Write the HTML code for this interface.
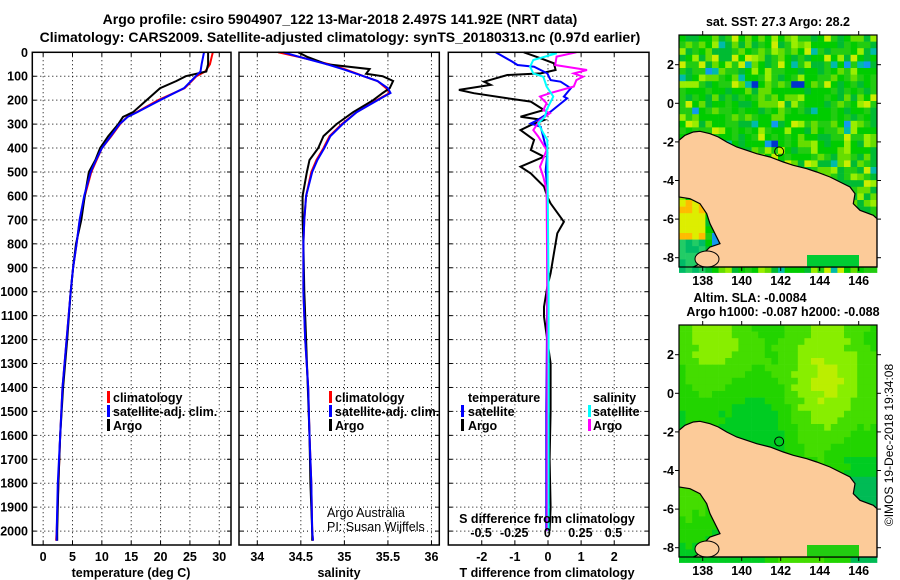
<!DOCTYPE html>
<html><head><meta charset="utf-8">
<style>
html,body{margin:0;padding:0;background:#fff;}
svg{display:block;font-family:"Liberation Sans",sans-serif;}
.b{font-weight:bold;font-size:12.5px;}
.t{font-weight:bold;font-size:14px;}
</style></head>
<body>
<svg id="fig" width="900" height="580" viewBox="0 0 900 580">
<text class="t" x="340" y="24" text-anchor="middle">Argo profile: csiro 5904907_122 13-Mar-2018 2.497S 141.92E (NRT data)</text>
<text class="t" x="340" y="42" text-anchor="middle">Climatology: CARS2009. Satellite-adjusted climatology: synTS_20180313.nc (0.97d earlier)</text>
<g id="panels"></g>
<g id="maps"></g>
<text class="b" transform="translate(893,445) rotate(-90)" text-anchor="middle" style="font-weight:normal;font-size:12px">©IMOS 19-Dec-2018 19:34:08</text>
</svg>
<script>
// ---- data ----
const tDepths=[0,50,80,100,120,150,200,250,270,300,350,400,450,500,600,700,800,900,1000,1200,1400,1600,1800,2000,2040];
const tClim=[28.9,28.4,27.6,26.1,25.3,24.1,19.6,15.9,14.3,13.1,11.6,10.0,9.1,8.2,7.1,6.25,5.7,5.1,4.7,4.0,3.3,2.9,2.6,2.3,2.2];
const tSat=[27.4,27.0,26.8,26.0,25.2,24.0,19.9,16.0,14.4,13.0,11.5,10.0,9.0,8.1,7.0,6.2,5.7,5.1,4.7,4.0,3.3,2.9,2.5,2.3,2.3];
const tArgo=[28.1,28.1,27.8,24.3,22.7,19.9,17.6,15.3,13.6,12.8,11.1,9.7,8.9,7.8,7.1,6.5,5.6,5.1,4.7,4.1,3.4,2.9,2.6,2.4,2.4];
const sDepths=[0,20,50,70,90,100,120,150,170,200,250,300,350,400,450,500,600,700,800,1000,1200,1400,1600,1800,2000,2040];
const sClim=[34.24,34.49,34.83,35.0,35.15,35.22,35.38,35.48,35.52,35.37,35.14,34.97,34.83,34.76,34.68,34.62,34.56,34.54,34.53,34.53,34.55,34.585,34.60,34.62,34.63,34.64];
const sSat=[34.30,34.49,34.80,34.98,35.14,35.22,35.38,35.50,35.53,35.38,35.14,34.98,34.84,34.77,34.69,34.63,34.56,34.54,34.53,34.53,34.55,34.585,34.60,34.62,34.63,34.64];
const sArgo=[34.47,34.58,34.80,35.29,35.25,35.44,35.56,35.52,35.44,35.33,35.10,34.91,34.76,34.70,34.60,34.57,34.52,34.52,34.53,34.54,34.56,34.58,34.60,34.61,34.63,34.63];
const dtArgoDepths=[0,25,46,74,88,95,123,136,157,171,192,206,241,269,283,304,325,366,408,436,478,506,561,603,631,708,756,840,923,979,1063,1104,1300,1500,1700,1900,2000];
const dtArgo=[-0.73,-0.22,0.18,0.23,-0.22,-1.23,-1.93,-1.73,-2.69,-2.24,-1.23,-0.52,-0.12,-0.83,-0.12,-0.52,-0.83,-0.42,-0.52,-0.12,-0.83,-0.52,-0.12,-0.02,0.08,0.48,0.28,0.18,0.08,-0.02,-0.12,-0.12,0.08,0.08,0.05,0.08,0.05];
const dtSatDepths=[0,39,53,60,88,116,123,150,185,192,220,248,283,297,311,366,422,492,575,1000,1500,2000];
const dtSat=[-1.58,-1.08,-0.92,-0.42,-0.02,0.08,0.38,0.69,0.48,0.58,0.33,0.08,-0.32,-0.52,-0.22,-0.12,-0.02,-0.07,-0.02,-0.02,-0.05,-0.05];
const dsArgoDepths=[0,18,53,74,88,102,116,143,171,185,213,241,255,283,325,352,408,478,520,575,1000,1500,2000];
const dsArgo=[0.22,0.07,0.06,0.30,0.20,0.27,0.22,0.20,0.02,-0.055,-0.005,-0.03,0.02,-0.055,-0.106,-0.068,-0.005,-0.055,-0.03,-0.005,0.0,0.0,0.0];
const dsSatDepths=[0,4,32,60,88,102,143,185,213,241,269,297,338,366,1000,2000];
const dsSat=[-0.005,0.071,-0.106,-0.13,-0.106,-0.03,-0.005,0.045,0.02,-0.005,-0.018,-0.068,-0.03,0.0,0.01,0.01];
const depthTicks=[0,100,200,300,400,500,600,700,800,900,1000,1100,1200,1300,1400,1500,1600,1700,1800,1900,2000];
const tTicks=[0,5,10,15,20,25,30];
const sTicks=[34,34.5,35,35.5,36];
const dtTicks=[-2,-1,0,1,2];
const dsTicks=[-0.5,-0.25,0,0.25,0.5];
const dsTickLabels=['-0.5','-0.25','0','0.25','0.5'];
const latTicks=[2,0,-2,-4,-6,-8];
const lonTicks=[138,140,142,144,146];

const NS='http://www.w3.org/2000/svg';
function mk(tag,attrs,parent){const e=document.createElementNS(NS,tag);for(const k in attrs)e.setAttribute(k,attrs[k]);parent.appendChild(e);return e;}
const P=document.getElementById('panels');
const top0=52.3, bot=545;
const yD=d=>top0+d*0.2394;

function panel(name,x0,x1,vmin,vmax){
  return {name,x0,x1,sx:v=>x0+(v-vmin)/(vmax-vmin)*(x1-x0)};
}
const p1=panel('temperature',32.3,231,-1.85,32.0);
const p2=panel('salinity',239,439.3,33.79,36.09);
const p3=panel('t-diff',448.3,649,-3.01,3.05);
const sxS=v=>547.3+v*132.4;

function grid(p,xticks,sx){
  const g=mk('g',{},P);
  
  
  depthTicks.forEach(d=>{if(d>0){mk('line',{x1:p.x0,x2:p.x1,y1:yD(d),y2:yD(d),stroke:'#000','stroke-width':1,'stroke-dasharray':'1,3'},g);
    mk('line',{x1:p.x0,x2:p.x0+4,y1:yD(d),y2:yD(d),stroke:'#000','stroke-width':1},g);mk('line',{x1:p.x1-4,x2:p.x1,y1:yD(d),y2:yD(d),stroke:'#000','stroke-width':1},g);}});
  xticks.forEach(v=>{const x=sx(v);mk('line',{x1:x,x2:x,y1:top0,y2:bot,stroke:'#000','stroke-width':1,'stroke-dasharray':'1,3'},g);
    mk('line',{x1:x,x2:x,y1:bot-4,y2:bot,stroke:'#000','stroke-width':1},g);mk('line',{x1:x,x2:x,y1:top0,y2:top0+4,stroke:'#000','stroke-width':1},g);});
}
function frame(p){
  const r=mk('rect',{x:p.x0,y:top0,width:p.x1-p.x0,height:bot-top0,fill:'none',stroke:'#000','stroke-width':1.5},P);
  
  
}
function series(nm,depths,vals,sx,color,w){
  const pts=depths.map((d,i)=>sx(vals[i]).toFixed(1)+','+yD(d).toFixed(1)).join(' ');
  const l=mk('polyline',{points:pts,fill:'none',stroke:color,'stroke-width':w||2,'stroke-linejoin':'miter'},P);
  
  
}
function txt(s,x,y,anchor,cls,nm,extra){
  const t=mk('text',Object.assign({x:x,y:y,'text-anchor':anchor||'start',class:cls||'b'},extra||{}),P);
  t.textContent=s;
  
  
  return t;
}
function legendBar(x,y,color,nm){
  const r=mk('rect',{x:x,y:y-11,width:3,height:12,fill:color},P);
  
  
}

grid(p1,tTicks,p1.sx);grid(p2,sTicks,p2.sx);grid(p3,dtTicks,p3.sx);
series('temp-climatology-line',tDepths,tClim,p1.sx,'#ff0000');
series('temp-argo-line',tDepths,tArgo,p1.sx,'#000000');
series('temp-satellite-line',tDepths,tSat,p1.sx,'#0000ff');
series('sal-climatology-line',sDepths,sClim,p2.sx,'#ff0000');
series('sal-argo-line',sDepths,sArgo,p2.sx,'#000000');
series('sal-satellite-line',sDepths,sSat,p2.sx,'#0000ff');
series('tdiff-argo-line',dtArgoDepths,dtArgo,p3.sx,'#000000');
series('tdiff-satellite-line',dtSatDepths,dtSat,p3.sx,'#0000ff');
series('sdiff-argo-line',dsArgoDepths,dsArgo,sxS,'#ff00ff');
series('sdiff-satellite-line',dsSatDepths,dsSat,sxS,'#00ffff');
frame(p1);frame(p2);frame(p3);

depthTicks.forEach(d=>txt(String(d),28,yD(d)+4.5,'end','b','depth-tick-'+d));
tTicks.forEach(v=>txt(String(v),p1.sx(v),561,'middle','b','temp-tick-'+v));
sTicks.forEach(v=>txt(String(v),p2.sx(v),561,'middle','b','sal-tick-'+v));
dtTicks.forEach(v=>txt(String(v),p3.sx(v),561,'middle','b','tdiff-tick-'+v));
dsTicks.forEach((v,i)=>txt(dsTickLabels[i],sxS(v),537,'middle','b','sdiff-tick-'+i));
txt('temperature (deg C)',131,577,'middle','b','temp-axis-title');
txt('salinity',339,577,'middle','b','sal-axis-title');
txt('T difference from climatology',547,577,'middle','b','tdiff-axis-title');
txt('S difference from climatology',547,523,'middle','b','sdiff-axis-title');
legendBar(107,402,'#ff0000','legend-bar-climatology');txt('climatology',113,402,'start','b','legend-climatology');
legendBar(107,416,'#0000ff','legend-bar-satellite');txt('satellite-adj. clim.',113,416,'start','b','legend-satellite');
legendBar(107,430,'#000000','legend-bar-argo');txt('Argo',113,430,'start','b','legend-argo');
legendBar(329,402,'#ff0000','legend2-bar-climatology');txt('climatology',335,402,'start','b','legend2-climatology');
legendBar(329,416,'#0000ff','legend2-bar-satellite');txt('satellite-adj. clim.',335,416,'start','b','legend2-satellite');
legendBar(329,430,'#000000','legend2-bar-argo');txt('Argo',335,430,'start','b','legend2-argo');
txt('temperature',468,402,'start','b','legend3-temperature-header');
legendBar(461,416,'#0000ff','legend3-bar-tsat');txt('satellite',468,416,'start','b','legend3-tsat');
legendBar(461,430,'#000000','legend3-bar-targo');txt('Argo',468,430,'start','b','legend3-targo');
txt('salinity',593,402,'start','b','legend3-salinity-header');
legendBar(588,416,'#00ffff','legend3-bar-ssat');txt('satellite',593,416,'start','b','legend3-ssat');
legendBar(588,430,'#ff00ff','legend3-bar-sargo');txt('Argo',593,430,'start','b','legend3-sargo');
txt('Argo Australia',327,517,'start','b','credit-argo-australia',{style:'font-weight:normal;font-size:12.5px'});
txt('PI: Susan Wijffels',327,531,'start','b','credit-pi',{style:'font-weight:normal;font-size:12.5px'});

// ---- maps ----
const M=document.getElementById('maps');
const land="0,105.3 6,100.3 14.3,97 21,96.3 31,98.7 39.3,102 47.7,107 57.7,112 67.7,115.3 77.7,118.7 91,122 104.3,127 114.3,130.3 127.7,133.7 137.7,137 151,142 161,147 171,152 176,158.7 174.3,168.7 181,175.3 194.3,180.3 198,183.7 198,232 14.3,232 21,228.7 24.3,218.7 31,212 41,208.7 34.3,195.3 31,188.7 27.7,178.7 21,168.7 11,163.7 0,162";
function hash(i,j,s){let h=(i*374761393+j*668265263+s*1442695041)|0;h=(h^(h>>>13))*1274126177|0;return ((h^(h>>>16))>>>0)/4294967296;}
function buildMap(nm,x0,y0,kind){
  const g=mk('g',{transform:`translate(${x0},${y0})`},M);
  
  
  const W=198,H=232,c=6.6;
  for(let j=0;j*c<H;j++)for(let i=0;i*c<W;i++){
    let col;
    if(kind==='sst'){
      const r=hash(i,j,1);
      const warm=(i>20&&j>17&&j<28)?0.35:((i<10&&j<8)?0.2:0);
      if(j>24&&i<4){col= j<31?(r<0.5?'#ffbb00':'#ddee00'):(r<0.4?'#00bb66':'#22cc66');}
      else if(r<0.35-warm)col='#00cc00';
      else if(r<0.55-warm)col='#22cc11';
      else if(r<0.68-warm/2)col='#00bb33';
      else if(r<0.81)col='#66dd00';
      else if(r<0.89)col='#99ee00';
      else if(r<0.94)col='#ccee00';
      else if(r<0.98)col='#00bbaa';
      else if(r<0.995)col='#1199ee';
      else col='#0033cc';
    } else {
      const v=0.5+0.25*Math.sin(i*0.35+j*0.05)+0.2*Math.cos(j*0.25-i*0.1)+(i+(35-j))*0.012-0.52+(hash(i,j,2)-0.5)*0.08;
      col=v>0.95?'#bbee00':v>0.72?'#88ee00':v>0.45?'#44dd00':v>0.2?'#22d400':'#00cc22';
      if(i>25&&j>22)col='#00bb55';
    }
    mk('rect',{x:i*c,y:j*c,width:c+0.3,height:c+0.3,fill:col},g);
  }
  const l=mk('polygon',{points:land,fill:'#fccb99',stroke:'#000','stroke-width':1.2},g);
  
  
  mk('rect',{x:128,y:220,width:52,height:12,fill:kind==='sst'?'#00cc33':'#22cc11'},g);
  mk('ellipse',{cx:28,cy:224,rx:12,ry:8,fill:'#fccb99',stroke:'#000','stroke-width':1},g);
  const lon=v=>23.7+(v-138)*19.5, lat=v=>29.7+(2-v)*19.3;
  const mark=mk('circle',{cx:lon(141.92),cy:lat(-2.497),r:4.5,fill:'none',stroke:'#000','stroke-width':1},g);
  
  
  const fr=mk('rect',{x:0,y:0,width:W,height:H,fill:'none',stroke:'#000','stroke-width':1.2},g);
  
  
  latTicks.forEach(v=>{const y=lat(v);mk('line',{x1:0,x2:-4,y1:y,y2:y,stroke:'#000'},g);mk('line',{x1:W,x2:W+4,y1:y,y2:y,stroke:'#000'},g);
    const t=mk('text',{x:-5,y:y+4.5,'text-anchor':'end',class:'b'},g);t.textContent=String(v);
    
    });
  lonTicks.forEach(v=>{const x=lon(v);mk('line',{x1:x,x2:x,y1:H,y2:H+4,stroke:'#000'},g);mk('line',{x1:x,x2:x,y1:0,y2:-4,stroke:'#000'},g);
    const t=mk('text',{x:x,y:H+18,'text-anchor':'middle',class:'b'},g);t.textContent=String(v);
    
    });
}
buildMap('sst-map',679,35,'sst');
buildMap('sla-map',679,325,'sla');
function mtxt(s,x,y,nm){const t=mk('text',{x:x,y:y,'text-anchor':'middle',class:'b'},M);t.textContent=s;
  
  }
mtxt('sat. SST: 27.3 Argo: 28.2',778,26,'sst-map-title');
mtxt('Altim. SLA: -0.0084',750,302,'sla-map-title');
mtxt('Argo h1000: -0.087 h2000: -0.088',783,316,'sla-map-subtitle');
</script>
</body></html>
